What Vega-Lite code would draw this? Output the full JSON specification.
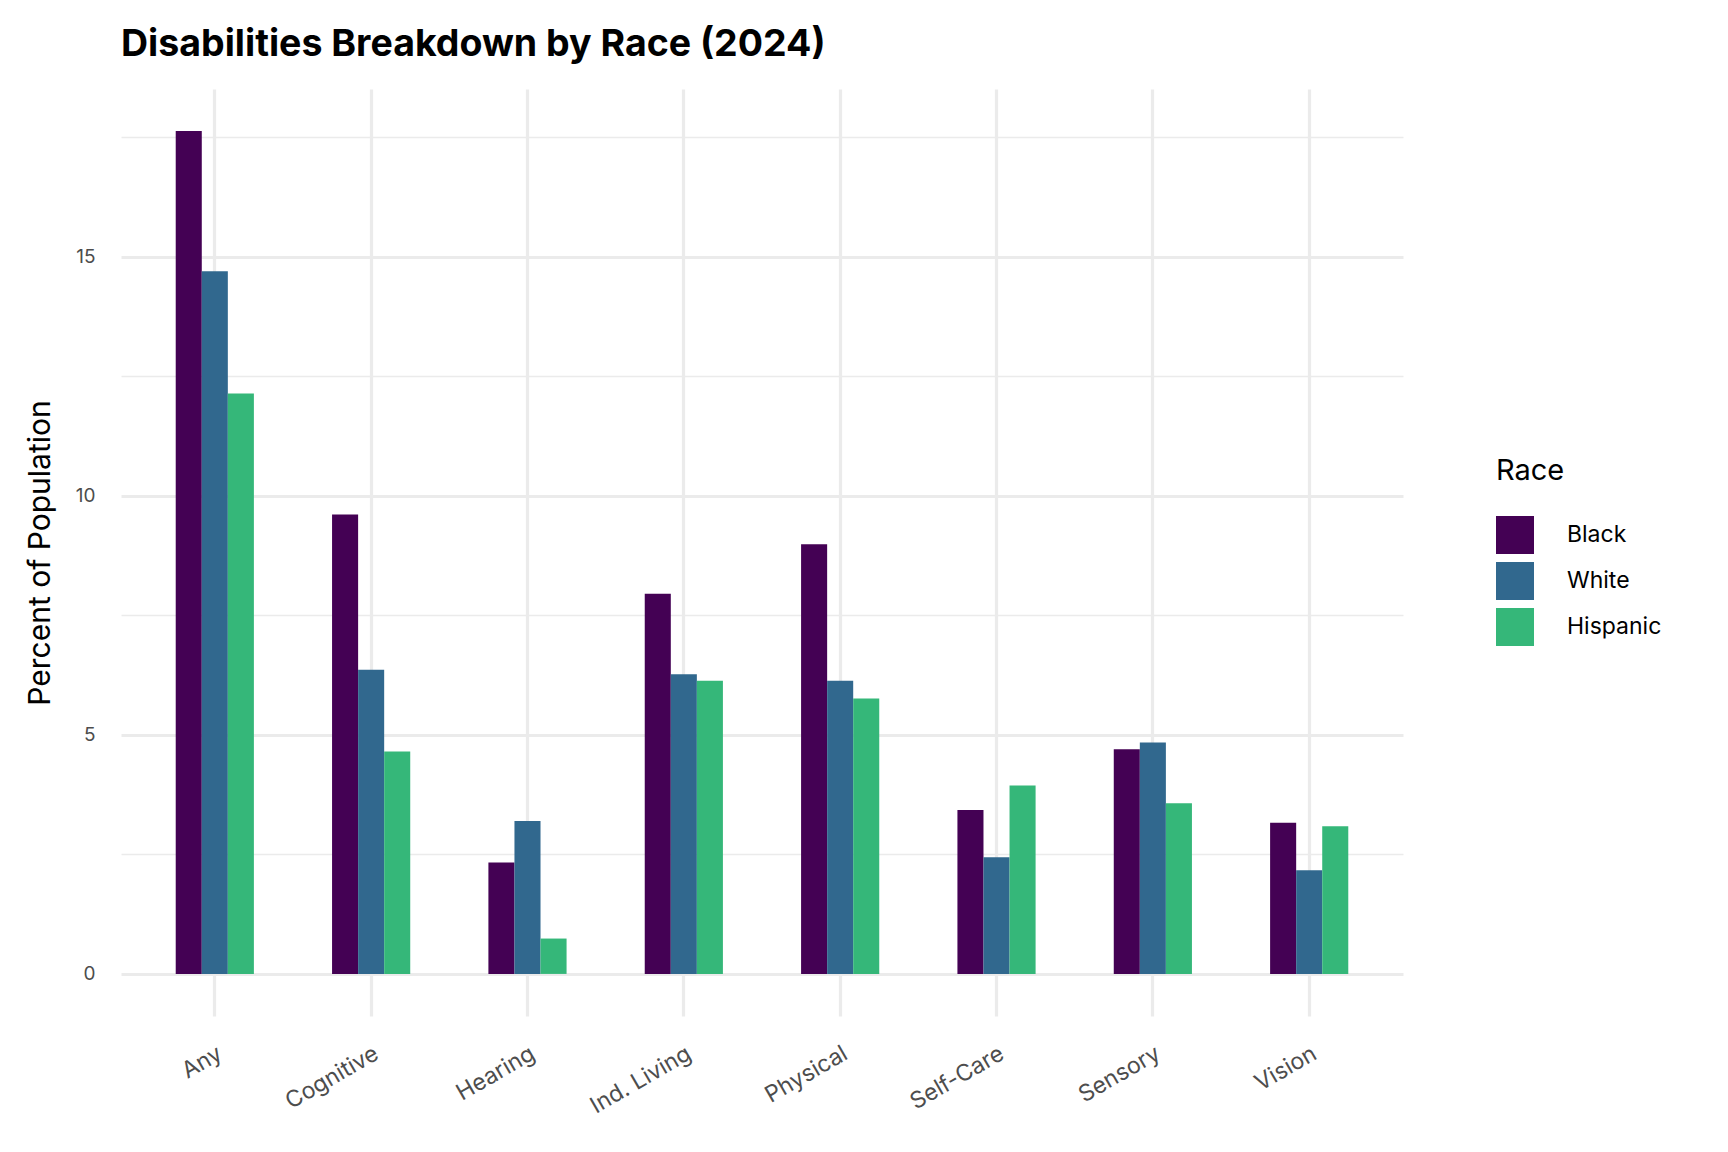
{
  "$schema": "https://vega.github.io/schema/vega-lite/v6.json",
  "autosize": {"type": "none"},
  "padding": {"left": 121, "top": 89, "right": 325, "bottom": 136},
  "width": 1282,
  "height": 927,
  "background": "white",
  "title": {
    "text": "Disabilities Breakdown by Race (2024)",
    "anchor": "start",
    "frame": "group",
    "font": "Inter",
    "fontSize": 37.5,
    "fontWeight": "bold",
    "color": "#000000",
    "offset": 26
  },
  "config": {
    "view": {"stroke": null},
    "font": "Inter"
  },
  "data": {
    "values": [
      {"type": "Any", "race": "Black", "pct": 17.63},
      {"type": "Any", "race": "White", "pct": 14.70},
      {"type": "Any", "race": "Hispanic", "pct": 12.14},
      {"type": "Cognitive", "race": "Black", "pct": 9.61},
      {"type": "Cognitive", "race": "White", "pct": 6.36},
      {"type": "Cognitive", "race": "Hispanic", "pct": 4.65},
      {"type": "Hearing", "race": "Black", "pct": 2.33},
      {"type": "Hearing", "race": "White", "pct": 3.20},
      {"type": "Hearing", "race": "Hispanic", "pct": 0.74},
      {"type": "Ind. Living", "race": "Black", "pct": 7.95},
      {"type": "Ind. Living", "race": "White", "pct": 6.27},
      {"type": "Ind. Living", "race": "Hispanic", "pct": 6.13},
      {"type": "Physical", "race": "Black", "pct": 8.99},
      {"type": "Physical", "race": "White", "pct": 6.13},
      {"type": "Physical", "race": "Hispanic", "pct": 5.76},
      {"type": "Self-Care", "race": "Black", "pct": 3.43},
      {"type": "Self-Care", "race": "White", "pct": 2.44},
      {"type": "Self-Care", "race": "Hispanic", "pct": 3.94},
      {"type": "Sensory", "race": "Black", "pct": 4.70},
      {"type": "Sensory", "race": "White", "pct": 4.84},
      {"type": "Sensory", "race": "Hispanic", "pct": 3.57},
      {"type": "Vision", "race": "Black", "pct": 3.16},
      {"type": "Vision", "race": "White", "pct": 2.17},
      {"type": "Vision", "race": "Hispanic", "pct": 3.09}
    ]
  },
  "mark": {"type": "bar"},
  "encoding": {
    "x": {
      "field": "type",
      "type": "nominal",
      "sort": ["Any", "Cognitive", "Hearing", "Ind. Living", "Physical", "Self-Care", "Sensory", "Vision"],
      "scale": {"paddingInner": 0.5, "paddingOuter": 0.35},
      "axis": {
        "title": null,
        "domain": false,
        "ticks": false,
        "grid": true,
        "bandPosition": 0.5,
        "gridColor": "#ebebeb",
        "gridWidth": 3.2,
        "labelAngle": -30,
        "labelAlign": "right",
        "labelBaseline": "top",
        "labelFont": "Inter",
        "labelFontSize": 23,
        "labelColor": "#4d4d4d",
        "labelPadding": 26
      }
    },
    "xOffset": {
      "field": "race",
      "type": "nominal",
      "sort": ["Black", "White", "Hispanic"],
      "scale": {"paddingInner": 0, "paddingOuter": 0}
    },
    "y": {
      "field": "pct",
      "type": "quantitative",
      "scale": {"domain": [-0.88, 18.51], "nice": false, "zero": false},
      "axis": {
        "title": "Percent of Population",
        "titleFont": "Inter",
        "titleFontSize": 30,
        "titleFontWeight": "normal",
        "titleColor": "#000000",
        "titlePadding": 20,
        "values": [0, 2.5, 5, 7.5, 10, 12.5, 15, 17.5],
        "labelExpr": "datum.value % 5 === 0 ? datum.label : ''",
        "domain": false,
        "ticks": false,
        "grid": true,
        "gridColor": "#ebebeb",
        "gridWidth": {"condition": {"test": "datum.value % 5 === 0", "value": 3.2}, "value": 1.6},
        "labelFont": "Inter",
        "labelFontSize": 19,
        "labelColor": "#4d4d4d",
        "labelPadding": 26
      }
    },
    "y2": {"datum": 0},
    "color": {
      "field": "race",
      "type": "nominal",
      "scale": {"domain": ["Black", "White", "Hispanic"], "range": ["#440154", "#31688E", "#35B779"]},
      "legend": {
        "title": "Race",
        "orient": "none",
        "legendX": 1375,
        "legendY": 368,
        "titleFont": "Inter",
        "titleFontSize": 29,
        "titleFontWeight": "normal",
        "titleColor": "#000000",
        "titlePadding": 30,
        "labelFont": "Inter",
        "labelFontSize": 23,
        "labelColor": "#000000",
        "labelOffset": 33,
        "symbolType": "square",
        "symbolSize": 1444,
        "symbolStrokeWidth": 0,
        "symbolOpacity": 1,
        "rowPadding": 8
      }
    }
  }
}
